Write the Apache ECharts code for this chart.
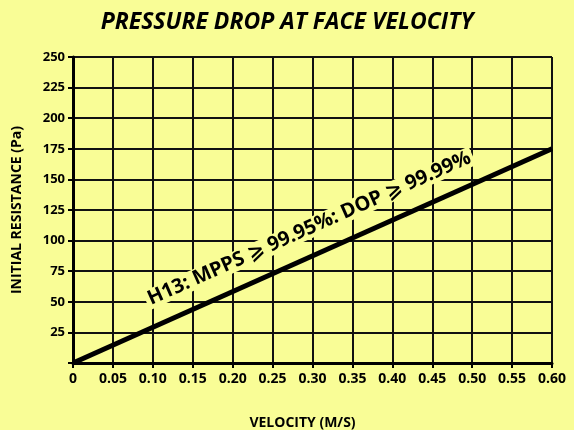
<!DOCTYPE html>
<html>
<head>
<meta charset="utf-8">
<script src="https://cdn.jsdelivr.net/npm/echarts@6/dist/echarts.min.js"></script>
<style>
html, body { margin: 0; padding: 0; background: #f9fd96; }
#main { width: 574px; height: 430px; }
</style>
</head>
<body>
<div id="main"></div>
<script>
// data
const velocity = [0, 0.60]
const resistance = [0, 175]
const xTicks = ['0', '0.05', '0.10', '0.15', '0.20', '0.25', '0.30', '0.35', '0.40', '0.45', '0.50', '0.55', '0.60']
const labelText = 'H13: MPPS \u2A7E 99.95%: DOP \u2A7E 99.99%'
const labelAt = [0.296, 110]

const bg = '#f9fd96'
const font = '"Open Sans", "DejaVu Sans", sans-serif'

const chart = echarts.init(document.getElementById('main'))

chart.setOption({
    backgroundColor: bg,
    animation: false,
    title: {
        text: 'PRESSURE DROP AT FACE VELOCITY',
        left: 'center',
        top: 6,
        textStyle: {
            fontFamily: font,
            fontSize: 23,
            fontWeight: 'bold',
            fontStyle: 'italic',
            color: '#000'
        }
    },
    grid: {
        left: 73,
        right: 22,
        top: 57,
        bottom: 67,
        outerBoundsMode: 'none'
    },
    xAxis: {
        type: 'value',
        min: 0,
        max: 0.6,
        interval: 0.05,
        name: 'VELOCITY (M/S)',
        nameLocation: 'middle',
        nameGap: 53,
        nameTextStyle: { fontFamily: font, fontSize: 14, fontWeight: 'bold', color: '#000', padding: [0, 20, 0, 0] },
        axisLine: { show: true, lineStyle: { color: '#000', width: 3 } },
        axisTick: { show: true, length: 5, lineStyle: { color: '#000', width: 2 } },
        axisLabel: {
            fontFamily: font, fontSize: 14, fontWeight: 'bold', color: '#000', margin: 9,
            formatter: (v) => xTicks[Math.round(v / 0.05)]
        },
        splitLine: { show: true, lineStyle: { color: '#111', width: 2 } }
    },
    yAxis: {
        type: 'value',
        min: 0,
        max: 250,
        interval: 25,
        name: 'INITIAL RESISTANCE (Pa)',
        nameLocation: 'middle',
        nameGap: 49,
        nameTextStyle: { fontFamily: font, fontSize: 14, fontWeight: 'bold', color: '#000' },
        axisLine: { show: true, lineStyle: { color: '#000', width: 3 } },
        axisTick: { show: true, length: 5, lineStyle: { color: '#000', width: 2 } },
        axisLabel: {
            fontFamily: font, fontSize: 13, fontWeight: 'bold', color: '#000', margin: 8,
            formatter: (v) => (v === 0 ? '' : String(v))
        },
        splitLine: { show: true, lineStyle: { color: '#111', width: 2 } }
    },
    series: [
        {
            type: 'line',
            data: velocity.map((v, i) => [v, resistance[i]]),
            symbol: 'none',
            lineStyle: { color: '#000', width: 5 },
            z: 3,
            markPoint: {
                symbol: 'circle',
                symbolSize: 0,
                z: 5,
                data: [{ coord: labelAt }],
                label: {
                    show: true,
                    position: 'inside',
                    formatter: labelText,
                    rotate: 24,
                    fontFamily: font,
                    fontSize: 20,
                    fontWeight: 'bold',
                    color: '#000',
                    backgroundColor: bg,
                    padding: [0, 3]
                }
            }
        }
    ]
})
</script>
</body>
</html>
